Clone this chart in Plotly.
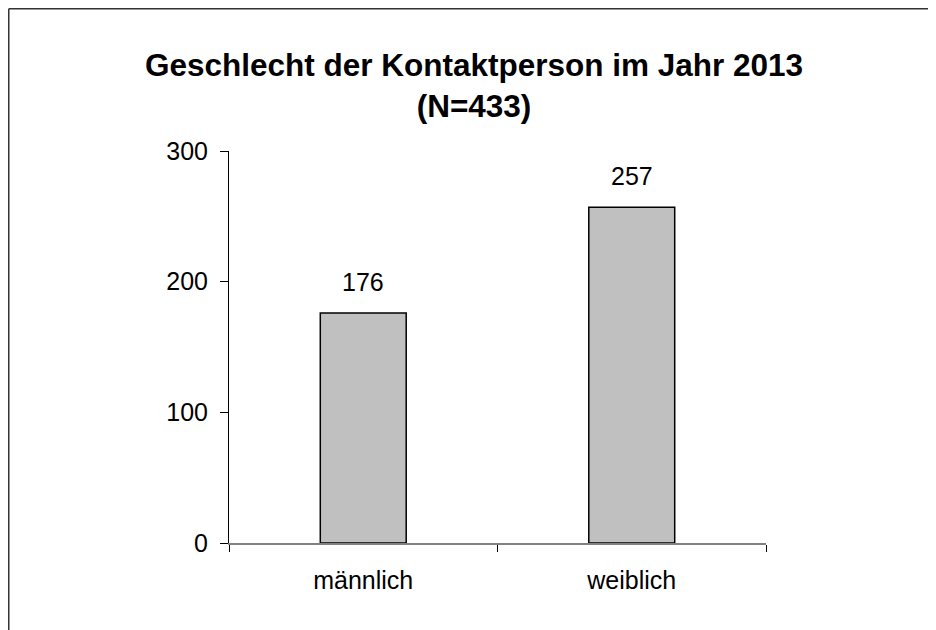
import plotly.graph_objects as go

categories = ["männlich", "weiblich"]
values = [176, 257]
y_ticks = [0, 100, 200, 300]
title_line1 = "Geschlecht der Kontaktperson im Jahr 2013"
title_line2 = "(N=433)"

W, H = 936, 630
L, R, T, B = 221, 178, 143, 95
pw, ph = W - L - R, H - T - B

fig = go.Figure()
fig.add_trace(go.Bar(
    x=categories, y=values, width=0.32,
    marker=dict(color="#C0C0C0", line=dict(color="#000000", width=1.5)),
    hoverinfo="skip",
))

for c, v in zip(categories, values):
    fig.add_annotation(x=c, y=v, text=str(v), showarrow=False,
                       yanchor="bottom", yshift=15,
                       font=dict(family="Liberation Sans, Arial", size=25, color="#000"))

def px_x(p):
    return (p - L) / pw

def px_y(p):
    return (H - B - p) / ph

# outer chart border (top and left edges visible; right/bottom fall outside the view)
fig.add_shape(type="line", xref="paper", yref="paper",
              x0=px_x(0.75), x1=px_x(W), y0=px_y(0.75), y1=px_y(0.75),
              line=dict(color="#333333", width=1.5), layer="below")
fig.add_shape(type="line", xref="paper", yref="paper",
              x0=px_x(0.75), x1=px_x(0.75), y0=px_y(0.75), y1=px_y(H),
              line=dict(color="#333333", width=1.5), layer="below")

fig.update_layout(
    width=W, height=H,
    margin=dict(l=L, r=R, t=T, b=B, autoexpand=False),
    paper_bgcolor="white", plot_bgcolor="white",
    showlegend=False,
    font=dict(family="Liberation Sans, Arial", size=25, color="#000"),
    title=dict(
        text=f"<b>{title_line1}</b><br><b>{title_line2}</b>",
        x=466 / W, xanchor="center", xref="container",
        y=1 - 68 / H, yanchor="top", yref="container",
        font=dict(family="Liberation Sans, Arial", size=31.5, color="#000"),
    ),
    xaxis=dict(
        showline=True, linecolor="#808080", linewidth=1.5,
        ticks="outside", tickson="boundaries", ticklen=7, tickcolor="#000", tickwidth=1,
        showgrid=False, zeroline=False, ticklabelstandoff=14,
        tickfont=dict(size=25),
    ),
    yaxis=dict(
        range=[0, 300], tickvals=y_ticks,
        showline=True, linecolor="#000", linewidth=1,
        ticks="outside", ticklen=8, tickcolor="#000", tickwidth=1,
        showgrid=False, zeroline=False, ticklabelstandoff=7,
        tickfont=dict(size=25),
    ),
    bargap=0.68,
)

fig.write_html("out.html", post_script="document.documentElement.style.overflow='hidden';document.body.style.overflow='hidden';")
